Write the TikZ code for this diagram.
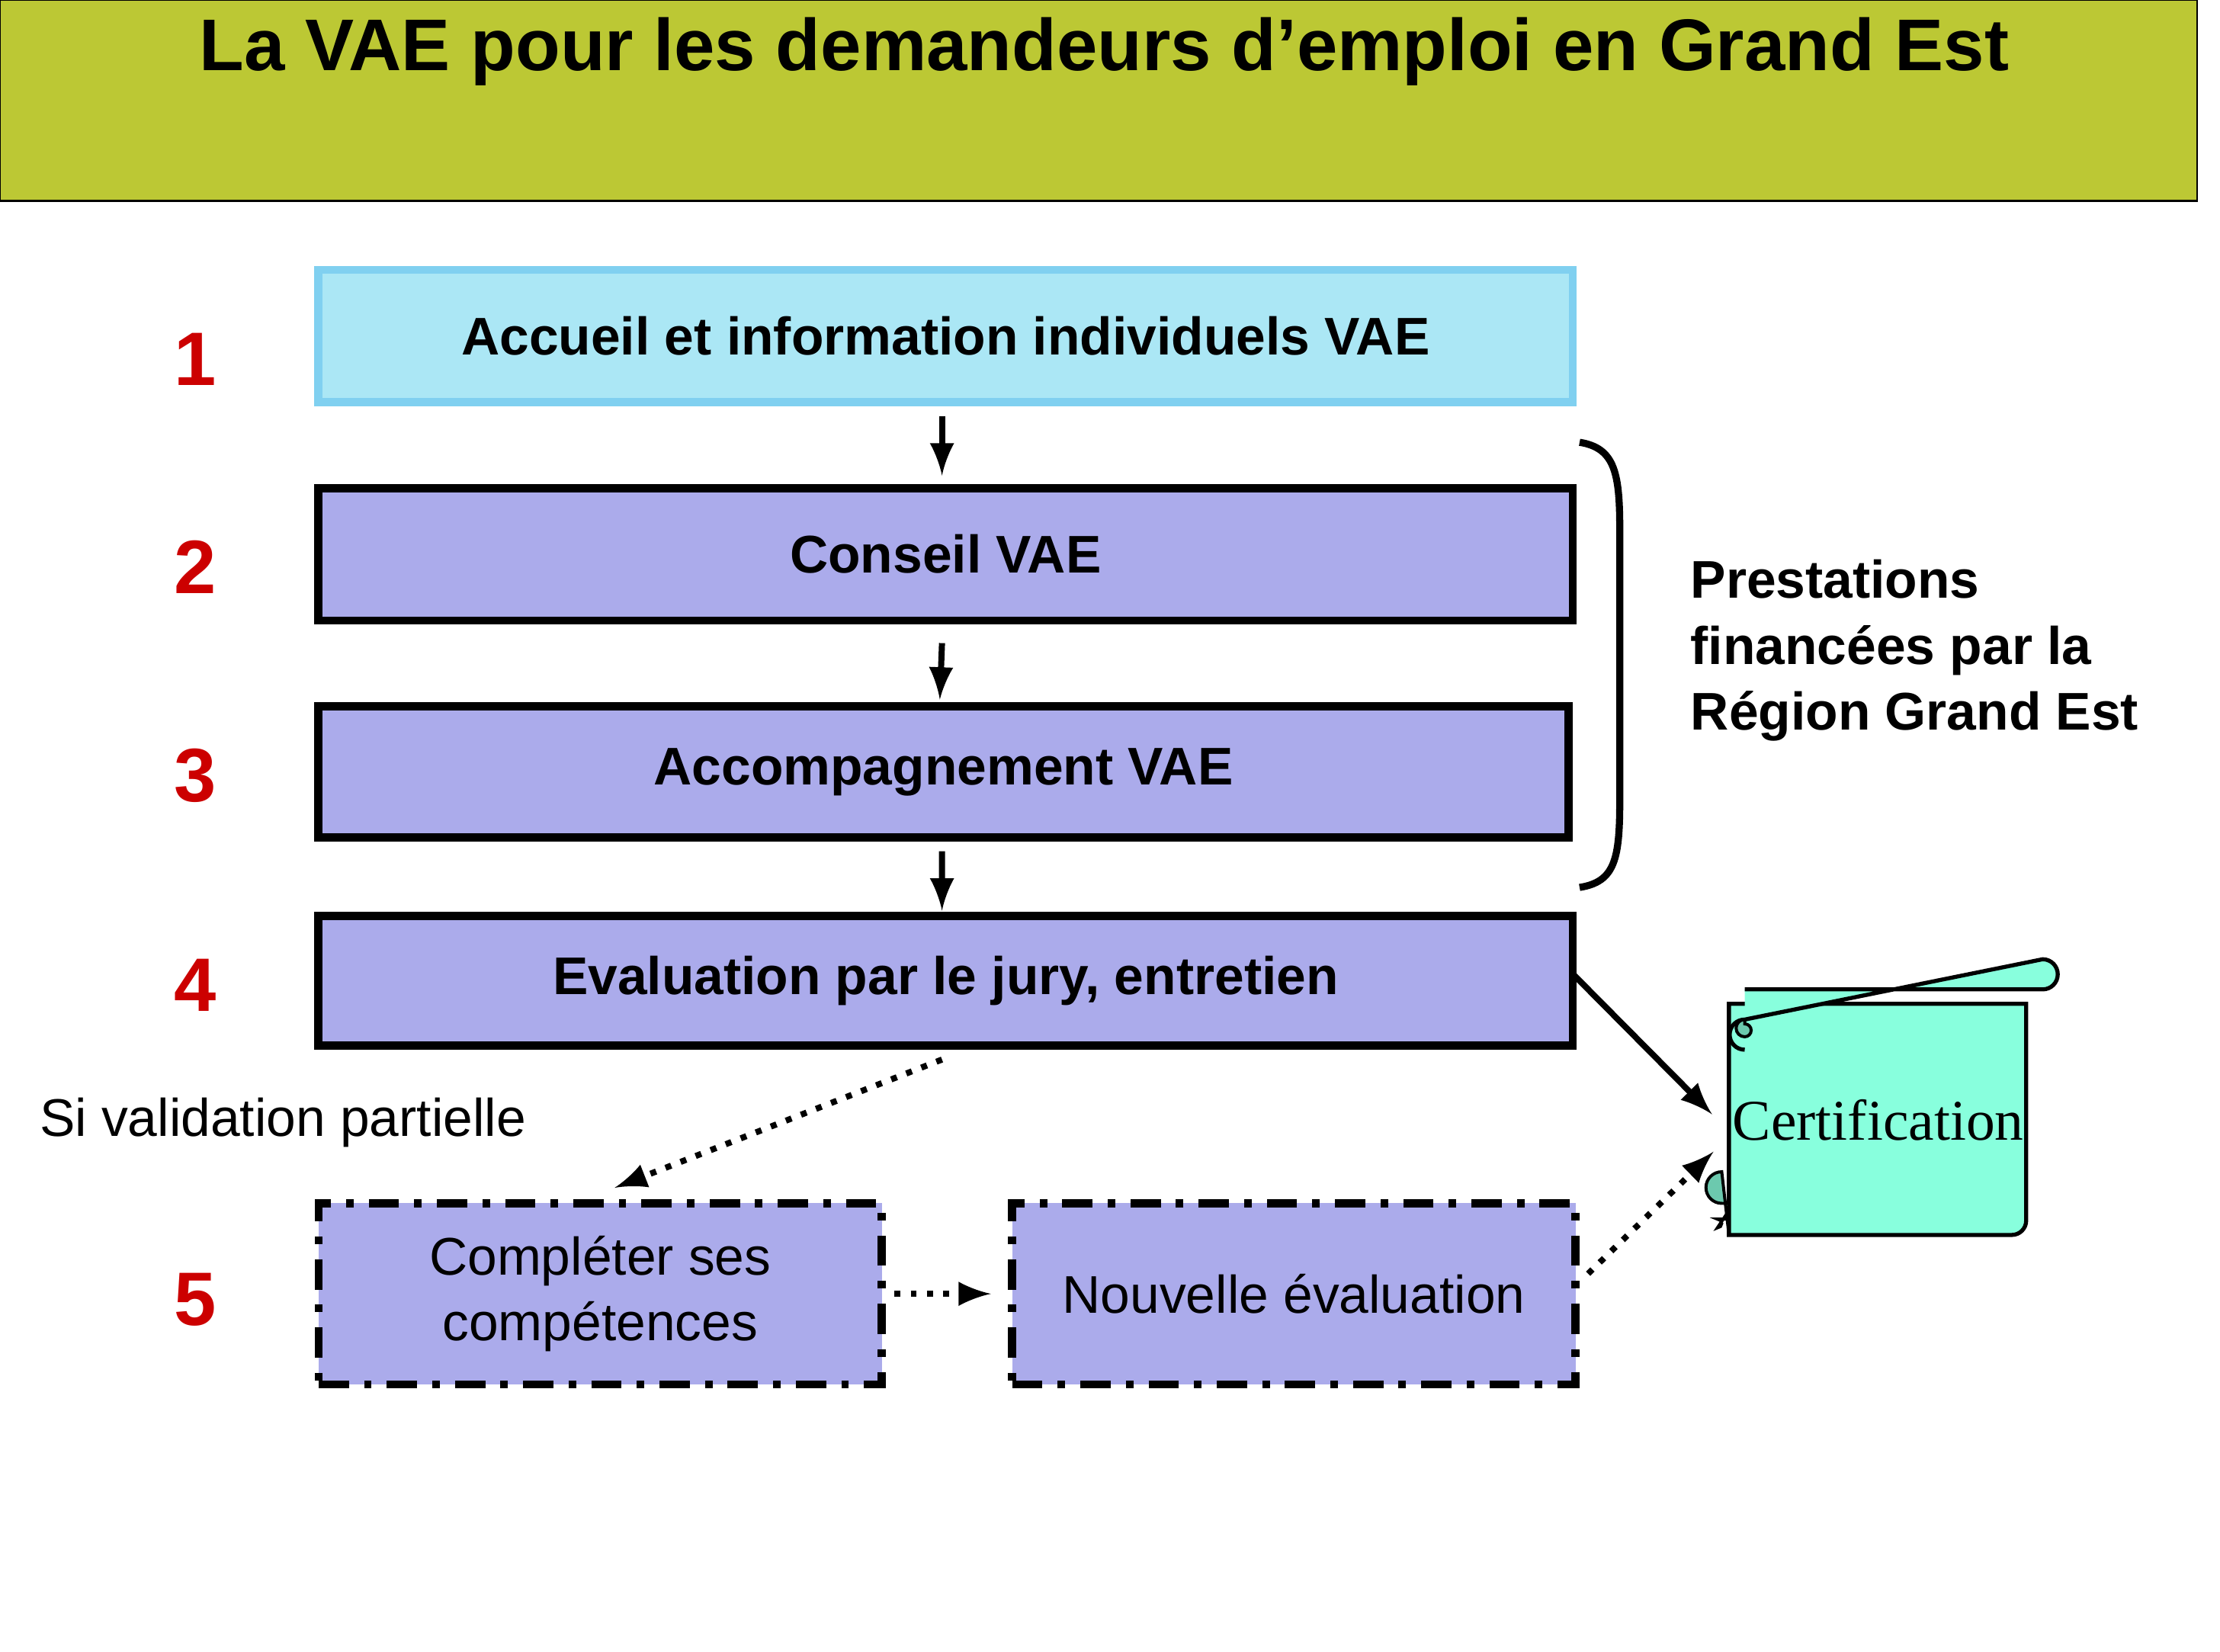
\documentclass[tikz,border=0pt]{standalone}
\usepackage{fontspec}
\setmainfont{Liberation Sans}
\newfontfamily\serifff{Liberation Serif}
\definecolor{olive}{HTML}{BCC834}
\definecolor{cyanb}{HTML}{ABE7F5}
\definecolor{cyanl}{HTML}{80D0F0}
\definecolor{lav}{HTML}{ABABEB}
\definecolor{mint}{HTML}{88FFDD}
\definecolor{mintd}{HTML}{6CC9AE}
\definecolor{numred}{HTML}{CC0000}
\begin{document}
\begin{tikzpicture}[x=0.01cm,y=-0.01cm,
  box/.style={draw=black,line width=1.6pt,fill=lav,inner sep=0,font=\fontsize{10.5}{12}\selectfont\bfseries},
  dbox/.style={draw=black,line width=1.6pt,fill=lav,inner sep=0,dash pattern=on 6pt off 3pt on 1.5pt off 3pt,font=\fontsize{10.5}{13}\selectfont,align=center},
  num/.style={text=numred,font=\fontsize{15}{18}\selectfont\bfseries},
  arr/.style={-latex,line width=1.2pt},
  darr/.style={-latex,line width=1.2pt,dotted}]
\useasboundingbox (0,0) rectangle (1546,1150);
\fill[white] (0,0) rectangle (1546,1150);
\fill[olive,draw=black] (0,0) rectangle (1530,140);
\node (tt) at (769,36) {\fontsize{14.5}{17}\selectfont\bfseries La VAE pour les demandeurs d’emploi en Grand Est};
\node[box,fill=cyanb,draw=cyanl,minimum width=8.73cm,minimum height=0.92cm] (b1) at (658.5,234) {Accueil et information individuels VAE};
\node[box,minimum width=8.73cm,minimum height=0.92cm] (b2) at (658.5,386) {Conseil VAE};
\node[box,minimum width=8.70cm,minimum height=0.91cm] (b3) at (657,537.5) {Accompagnement VAE};
\node[box,minimum width=8.73cm,minimum height=0.90cm] (b4) at (658.5,683) {Evaluation par le jury, entretien};
\draw[arr] ([xshift=-0.025cm,yshift=-0.07cm]b1.south) -- ([xshift=-0.025cm,yshift=0.06cm]b2.north);
\draw[arr] ([xshift=-0.025cm,yshift=-0.13cm]b2.south) -- ([xshift=-0.025cm,yshift=0.02cm]b3.north);
\draw[arr] ([xshift=-0.01cm,yshift=-0.07cm]b3.south) -- ([xshift=-0.025cm,yshift=0.01cm]b4.north);
\draw[line width=1.4pt] (1100,308) .. controls (1125,312) and (1128,330) .. (1128,370) -- (1128,556) .. controls (1128,598) and (1125,614) .. (1100,618);
\node[anchor=west,align=left,font=\fontsize{10.5}{13.1}\selectfont\bfseries] (pr) at (1165,453) {Prestations\\financées par la\\Région Grand Est};
\node[num] (n1) at (136,250) {1};
\node[num] (n2) at (136,395) {2};
\node[num] (n3) at (136,540) {3};
\node[num] (n4) at (136,686) {4};
\node[num] (n5) at (136,905) {5};
\node[font=\fontsize{10.5}{12}\selectfont] (sv) at (197,782) {Si validation partielle};
\node[dbox,minimum width=3.92cm,minimum height=1.26cm] (b5) at (418,901) {Compléter ses\\compétences};
\node[dbox,minimum width=3.92cm,minimum height=1.26cm] (b6) at (901,901) {Nouvelle évaluation};
% scroll
\draw[fill=mint,line width=0.8pt] (1204,699) -- (1204,860) -- (1401,860) arc (90:0:10) -- (1411,699) -- cycle;
\draw[fill=mint,line width=0.8pt] (1215,689) -- (1422.5,689) arc (90:-90:10.5) -- (1215,710) arc (-90:-270:10.5);
\draw[fill=mintd,line width=0.6pt] (1215,710) arc (-90:-270:6) arc (90:-90:4.5) -- cycle;
\draw[fill=mintd,line width=0.6pt] (1204,838) -- (1199,838) arc (90:270:11) -- (1204,860) -- cycle;
\draw[line width=0.6pt] (1204,849) -- (1196,849) arc (-90:90:3) -- (1204,843);
\node[font=\serifff\fontsize{11.4}{13}\selectfont] (cert) at (1308,780) {Certification};
\draw[arr] ([xshift=-0.03cm,yshift=0.05cm]b4.east) -- ([shift={(-0.02cm,0.04cm)}]cert.west);
\draw[darr] ([xshift=0.06cm,yshift=0.14cm]b6.east) -- ([shift={(-0.01cm,-0.22cm)}]cert.west);
\draw[darr] ([xshift=-0.025cm,yshift=-0.07cm]b4.south) -- ([xshift=0.1cm,yshift=0.08cm]b5.north);
\draw[darr] ([xshift=0.06cm]b5.east) -- ([xshift=-0.12cm]b6.west);
\end{tikzpicture}
\end{document}
